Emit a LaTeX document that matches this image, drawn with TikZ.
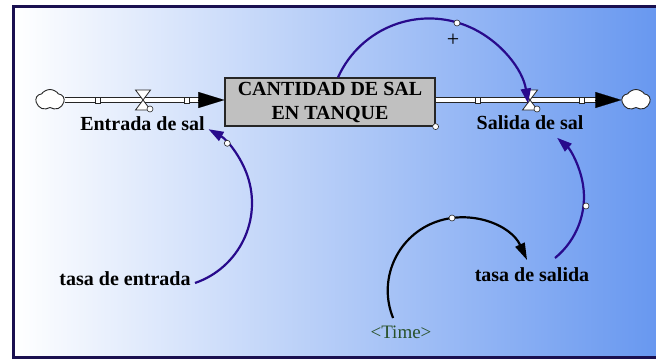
\documentclass[tikz,border=0pt]{standalone}
\usepackage{fontspec}
\setmainfont{Liberation Serif}
\usetikzlibrary{arrows.meta,shapes.symbols}
\definecolor{bgblue}{RGB}{104,152,240}
\definecolor{bgmid}{RGB}{196,218,248}
\definecolor{linkc}{RGB}{40,10,140}
\definecolor{framec}{RGB}{26,16,80}
\definecolor{timec}{RGB}{40,80,40}
\definecolor{boxfill}{RGB}{192,192,192}
\begin{document}
\begin{tikzpicture}[x=1pt,y=1pt,
  lbl/.style={font=\fontsize{20}{24}\selectfont\bfseries, inner sep=0pt},
  link/.style={draw=linkc, line width=2.2pt, -{Triangle[length=15pt,width=10pt]}},
  blacklink/.style={link, draw=black, -{Triangle[length=17pt,width=10pt]}},
  handle/.style={circle, draw=black!85, fill=white, line width=0.6pt, minimum size=6pt, inner sep=0pt},
  pipe/.style={draw=black!85, line width=1.1pt, double=white, double distance=4.6pt},
  flowarrow/.style={line width=0.1pt, -{Triangle[length=26pt,width=16pt]}},
  sq/.style={draw=black!85, fill=white, line width=0.6pt, minimum width=5pt, minimum height=6pt, inner sep=0pt},
  valve/.style={draw=black!85, fill=white, line width=0.8pt},
  cloudsrc/.style={cloud, cloud puffs=5, cloud puff arc=110, draw=black!85, fill=white, line width=0.9pt, minimum width=28pt, minimum height=21pt, inner sep=0pt},
  stockbox/.style={draw=black!85, line width=1.2pt, fill=boxfill, minimum width=210pt, minimum height=48pt, align=center, lbl}
]
\useasboundingbox (0,0) rectangle (656,360);
\fill[white] (0,0) rectangle (656,360);
\shade[left color=white, middle color=bgmid, right color=bgblue] (13.5,3) rectangle (656,353.5);
\draw[framec, line width=3pt] (656,353.5) -- (13.5,353.5) -- (13.5,3) -- (656,3);

% stock
\node[stockbox] (stock) at (330,258) {CANTIDAD DE SAL\\EN TANQUE};
\node[handle] (stockh) at (stock.south east) {};

% clouds
\node[cloudsrc] (srcL) at (50,260) {};
\node[cloudsrc] (srcR) at (636,260) {};

% flows
\coordinate (inL) at (stock.west |- srcL.east);
\draw[pipe, shorten >=24pt] (srcL.east) -- (inL);
\draw[flowarrow] ([xshift=-26pt]inL) -- (inL);
\coordinate (outS) at (stock.east |- srcR.west);
\draw[pipe, shorten >=24pt] (outS) -- (srcR.west);
\draw[flowarrow] ([xshift=-26pt]srcR.west) -- (srcR.west);

\node[sq] (sqa) at (98,260) {};
\node[sq] (sqb) at (187,260) {};
\node[sq] (sqc) at (478,260) {};
\node[sq] (sqd) at (582,260) {};

% valves
\coordinate (valveL) at (143,260);
\coordinate (valveR) at (530,260);
\draw[valve] ([shift={(-7.5,10)}]valveL) -- ([shift={(7.5,10)}]valveL) -- ([shift={(-7.5,-10)}]valveL) -- ([shift={(7.5,-10)}]valveL) -- cycle;
\draw[valve] ([shift={(-7.5,10)}]valveR) -- ([shift={(7.5,10)}]valveR) -- ([shift={(-7.5,-10)}]valveR) -- ([shift={(7.5,-10)}]valveR) -- cycle;
\node[handle] (vhL) at (150,251) {};
\node[handle] (vhR) at (537,251) {};

% labels
\node[lbl] (inflow) at (142.5,236) {Entrada de sal};
\node[lbl] (outflow) at (530,237) {Salida de sal};
\node[lbl] (rin) at (125,81) {tasa de entrada};
\node[lbl] (rout) at (532,85) {tasa de salida};
\node[font=\fontsize{19}{21}\selectfont, text=timec, inner sep=0pt] (time) at (401,28) {<Time>};
\node[font=\fontsize{22}{22}\selectfont, inner sep=0pt] (plus) at (453,320) {+};

% links
\coordinate (a1s) at ([xshift=8pt]stock.north);
\draw[link] (a1s) arc[start angle=155.75, end angle=8.6, radius=100pt];
\node[handle] (h1) at (457,337) {};

\coordinate (a2s) at (195,77);
\draw[link] (a2s) arc[start angle=-71, end angle=61, radius=84.5pt];
\node[handle] (h2) at (227.3,216.7) {};

\coordinate (a3s) at (555,102);
\draw[link] (a3s) arc[start angle=-50.8, end angle=48.8, radius=78.7pt];
\node[handle] (h3) at (586,154) {};

\coordinate (a4s) at (393.1,42);
\draw[blacklink] (a4s) arc[start angle=202.1, end angle=24.7, radius=73pt];
\node[handle] (h4) at (452,142) {};
\end{tikzpicture}
\end{document}
